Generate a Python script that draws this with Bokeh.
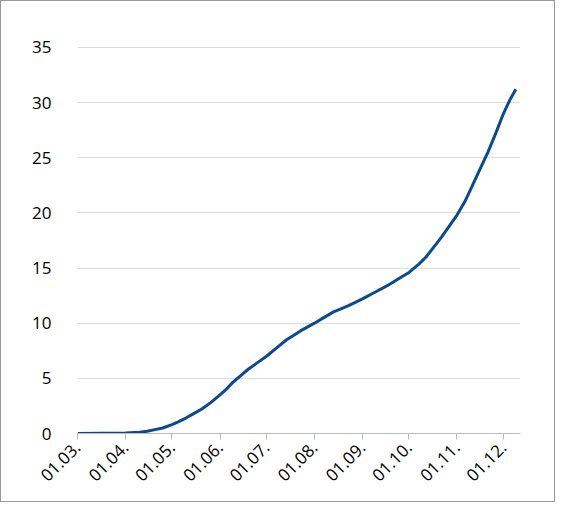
from bokeh.models import FixedTicker
from bokeh.plotting import figure
from bokeh.embed import file_html
from bokeh.resources import INLINE

# day index from 1 March
days = [0, 31, 40, 45, 50, 55, 61, 65, 70, 75, 80, 86, 92, 96, 100, 105, 110, 116,
        122, 128, 135, 144, 153, 159, 165, 175, 184, 192, 200, 207, 214, 220, 225,
        230, 235, 240, 245, 250, 255, 260, 265, 270, 275, 279, 283]
values = [0, 0.05, 0.12, 0.2, 0.35, 0.5, 0.8, 1.05, 1.4, 1.8, 2.2, 2.8, 3.5, 4.0,
          4.6, 5.2, 5.8, 6.4, 7.0, 7.7, 8.5, 9.3, 10.0, 10.5, 11.0, 11.6, 12.2,
          12.8, 13.4, 14.0, 14.6, 15.3, 16.0, 16.9, 17.8, 18.8, 19.8, 21.0, 22.5,
          24.0, 25.5, 27.2, 29.0, 30.2, 31.2]
tick_days = [0, 31, 61, 92, 122, 153, 184, 214, 245, 275]
tick_labels = ["01.03.", "01.04.", "01.05.", "01.06.", "01.07.", "01.08.",
               "01.09.", "01.10.", "01.11.", "01.12."]

p = figure(width=555, height=502, output_backend="svg", toolbar_location=None,
           x_range=(0, 286), y_range=(0, 36.8), min_border_left=76,
           min_border_right=36, min_border_top=26, min_border_bottom=70)
p.line(days, values, line_color="#0b4a8b", line_width=3)

p.xaxis.ticker = FixedTicker(ticks=tick_days)
p.xaxis.major_label_overrides = {d: l for d, l in zip(tick_days, tick_labels)}
p.xaxis.major_label_orientation = 0.785
p.yaxis.ticker = FixedTicker(ticks=list(range(0, 40, 5)))
for ax in (p.xaxis[0], p.yaxis[0]):
    ax.major_label_text_font = "Open Sans"
    ax.major_label_text_font_size = "17px"
    ax.major_label_text_color = "#000000"
    ax.minor_tick_line_color = None
p.yaxis.major_label_standoff = 20
p.xaxis.axis_line_color = "#bbbbbb"
p.xaxis.major_tick_line_color = "#bbbbbb"
p.xaxis.major_tick_in = 0
p.xaxis.major_tick_out = 6
p.yaxis.axis_line_color = None
p.yaxis.major_tick_line_color = None
p.xgrid.grid_line_color = None
p.ygrid.grid_line_color = "#dddddd"
p.outline_line_color = None
p.border_fill_color = "white"
p.styles = {"border": "1px solid #999999"}

open("out.html", "w").write(file_html(p, INLINE))
